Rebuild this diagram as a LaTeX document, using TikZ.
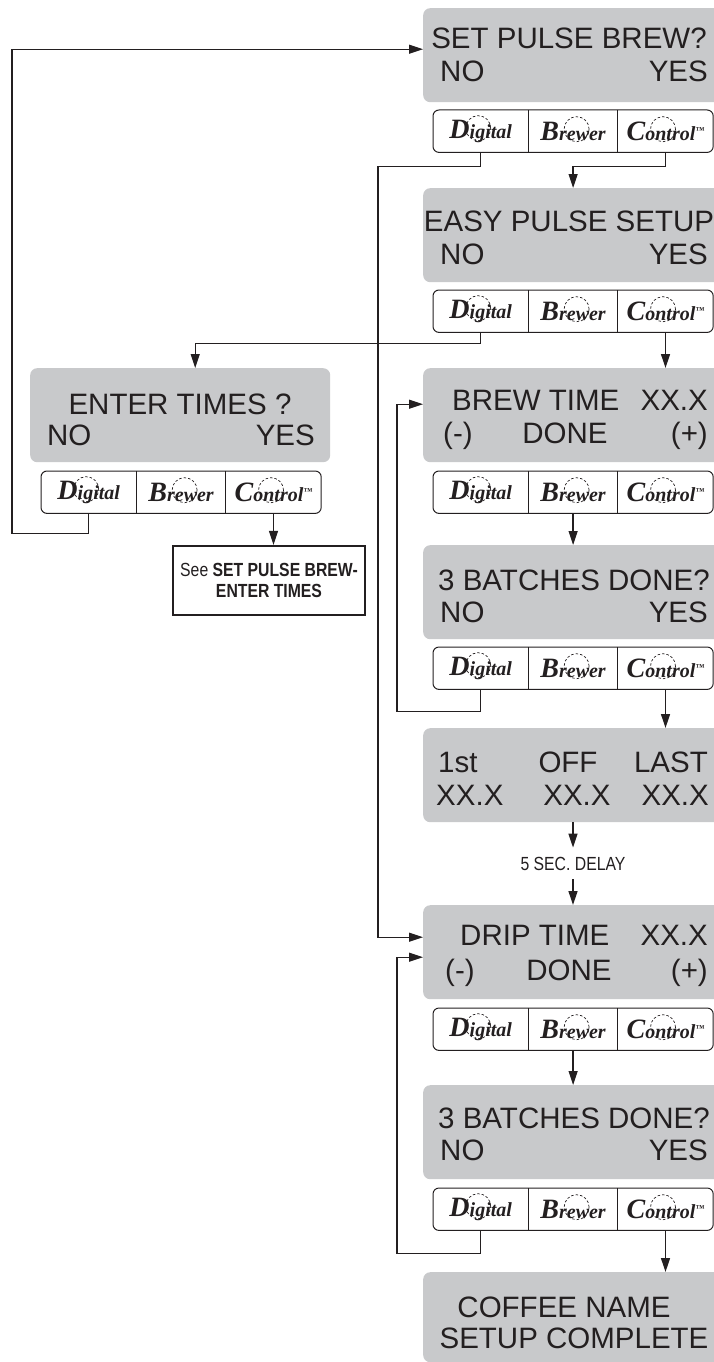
\documentclass[tikz,border=0pt]{standalone}
\usepackage{fontspec}
\setmainfont{Liberation Sans}
\newfontfamily\brandfont{Liberation Serif}
\newfontfamily\condfont[FakeStretch=0.83]{Liberation Sans}
\usetikzlibrary{positioning,arrows.meta}
\definecolor{lcdgray}{RGB}{200,201,203}
\definecolor{ink}{RGB}{35,31,32}
\newcommand{\brandcap}[2]{{\fontsize{28}{28}\selectfont #1}{\fontsize{20}{20}\selectfont #2}}

\tikzset{
  screen/.style={fill=lcdgray, rounded corners=7pt, minimum width=300pt, minimum height=94pt, anchor=north west, inner sep=0pt},
  lcd/.style={font=\fontsize{29.5}{32}\selectfont, text=ink, inner sep=0pt},
  key/.style={minimum height=42pt, inner sep=0pt, text=ink, font=\brandfont\bfseries\itshape},
  keyframe/.style={draw=ink, line width=1pt, rounded corners=6pt},
  keyline/.style={draw=ink, line width=1pt},
  ring/.style={draw=ink, line width=0.7pt, dash pattern=on 2.5pt off 2pt},
  flow/.style={draw=ink, line width=1.3pt, -{Triangle[length=14pt,width=9pt]}},
  note/.style={font=\condfont\fontsize{19}{21}\selectfont, text=ink},
}

\begin{document}
\begin{tikzpicture}[x=1pt,y=-1pt]
   \useasboundingbox (0,0) rectangle (714,1362);
   \clip (0,0) rectangle (714,1362);

   \node[screen] (s1) at (423,8) {};
   \node[screen] (s2) at (423,188) {};
   \node[screen] (s3) at (423,368) {};
   \node[screen] (s4) at (423,545) {};
   \node[screen] (s5) at (423,728) {};
   \node[screen] (s6) at (423,905) {};
   \node[screen] (s7) at (423,1085) {};
   \node[screen, minimum height=90pt] (s8) at (423,1272) {};
   \node[screen] (e1) at (30,368) {};

   \node[lcd, anchor=base] (s1-t) at (569,49) {SET PULSE BREW?};
   \node[lcd, anchor=base west] (s1-no) at (440,82) {NO};
   \node[lcd, anchor=base east] (s1-yes) at (708,82) {YES};

   \node[lcd, anchor=base] (s2-t) at (569,231) {EASY PULSE SETUP};
   \node[lcd, anchor=base west] (s2-no) at (440,264) {NO};
   \node[lcd, anchor=base east] (s2-yes) at (708,264) {YES};

   \node[lcd, anchor=base west] (s3-t) at (452,410) {BREW TIME};
   \node[lcd, anchor=base east] (s3-v) at (708,410) {XX.X};
   \node[lcd, anchor=base west] (s3-m) at (443,443) {(-)};
   \node[lcd, anchor=base] (s3-ok) at (565,443) {DONE};
   \node[lcd, anchor=base east] (s3-p) at (708,443) {(+)};

   \node[lcd, anchor=base] (s4-t) at (574,590) {3 BATCHES DONE?};
   \node[lcd, anchor=base west] (s4-no) at (440,622) {NO};
   \node[lcd, anchor=base east] (s4-yes) at (708,622) {YES};

   \node[lcd, anchor=base west] (s5-a) at (438,772) {1st};
   \node[lcd, anchor=base] (s5-b) at (568,772) {OFF};
   \node[lcd, anchor=base east] (s5-c) at (708,772) {LAST};
   \node[lcd, anchor=base west] (s5-d) at (436,805) {XX.X};
   \node[lcd, anchor=base] (s5-e) at (577,805) {XX.X};
   \node[lcd, anchor=base east] (s5-f) at (709,805) {XX.X};

   \node[lcd, anchor=base west] (s6-t) at (460,945) {DRIP TIME};
   \node[lcd, anchor=base east] (s6-v) at (708,945) {XX.X};
   \node[lcd, anchor=base west] (s6-m) at (445,980) {(-)};
   \node[lcd, anchor=base] (s6-ok) at (569,980) {DONE};
   \node[lcd, anchor=base east] (s6-p) at (708,980) {(+)};

   \node[lcd, anchor=base] (s7-t) at (574,1128) {3 BATCHES DONE?};
   \node[lcd, anchor=base west] (s7-no) at (440,1160) {NO};
   \node[lcd, anchor=base east] (s7-yes) at (708,1160) {YES};

   \node[lcd, anchor=base] (s8-a) at (564,1317) {COFFEE NAME};
   \node[lcd, anchor=base] (s8-b) at (574,1348) {SETUP COMPLETE};

   \node[lcd, anchor=base] (e1-t) at (180,414) {ENTER TIMES ?};
   \node[lcd, anchor=base west] (e1-no) at (47,445) {NO};
   \node[lcd, anchor=base east] (e1-yes) at (315,445) {YES};

   \foreach \n/\x/\y in {b1/433/110, b2/433/290, b3/433/471, b4/433/647, b6/433/1008, b7/433/1188, bl/41/471}{
      \node[key, minimum width=95pt, anchor=north west] (\n-d) at (\x,\y) {\brandcap{D}{igital}};
      \node[key, minimum width=89pt, right=0pt of \n-d] (\n-b) {\brandcap{B}{rewer}};
      \node[key, minimum width=95pt, right=0pt of \n-b] (\n-c) {\brandcap{C}{ontrol}\raisebox{7pt}{\fontsize{9}{9}\selectfont ™}};
      \draw[keyframe] (\n-d.north west) rectangle (\n-c.south east);
      \draw[keyline] (\n-b.north west) -- (\n-b.south west) (\n-b.north east) -- (\n-b.south east);
      \draw[ring] ([shift={(-2.5,-3)}]\n-d.center) circle (12.5pt);
      \draw[ring] ([shift={(3.5,-2)}]\n-b.center) circle (12.5pt);
      \draw[ring] ([shift={(-2.5,-2)}]\n-c.center) circle (12.5pt);
   }

   \node[note, draw=ink, line width=2.2pt, minimum width=192pt, minimum height=69pt, align=center] (see) at (269,580.5) {See \textbf{SET PULSE BREW-}\\\textbf{ENTER TIMES}};
   \node[note, inner xsep=0pt, inner ysep=9pt] (delay) at (573,863.5) {5 SEC. DELAY};

   \draw[flow] (b1-c.south) -- ++(0,14) -| (s2.north -| b1-b.south);
   \draw[flow] (b1-d.south) -- ++(0,14) -| ([xshift=-45pt,yshift=15pt]s6.west) -- ([yshift=15pt]s6.west);
   \draw[flow] (b2-d.south) -- ++(0,11) -| ([xshift=15pt]e1.north);
   \draw[flow] (b2-c.south) -- (s3.north -| b2-c.south);
   \draw[flow] (b3-b.south) -- (s4.north -| b3-b.south);
   \draw[flow] (b4-d.south) -- ++(0,22) -| ([xshift=-26pt,yshift=11pt]s3.west) -- ([yshift=11pt]s3.west);
   \draw[flow] (b4-c.south) -- (s5.north -| b4-c.south);
   \draw[flow] (s5.south -| delay.north) -- (delay.north);
   \draw[flow] (delay.south) -- (s6.north -| delay.south);
   \draw[flow] (b6-b.south) -- (s7.north -| b6-b.south);
   \draw[flow] (b7-d.south) -- ++(0,23) -| ([xshift=-26pt,yshift=-5pt]s6.west) -- ([yshift=-5pt]s6.west);
   \draw[flow] (b7-c.south) -- (s8.north -| b7-c.south);
   \draw[flow] (bl-d.south) -- ++(0,20) -| ([xshift=-411pt,yshift=6pt]s1.west) -- ([yshift=6pt]s1.west);
   \draw[flow] (bl-c.south) -- (see.north -| bl-c.south);
\end{tikzpicture}
\end{document}
